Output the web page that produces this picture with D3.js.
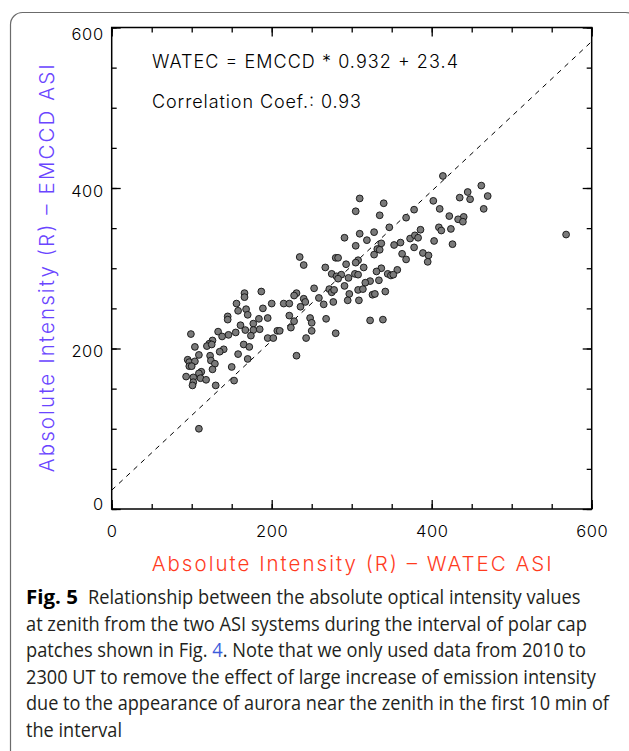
<html>
<head>
<meta charset="utf-8">
<title>Fig. 5 WATEC vs EMCCD</title>
<script src="https://d3js.org/d3.v7.min.js"></script>
<style>
  body { margin: 0; background: #fff; }
</style>
</head>
<body>
<script>

    const width = 629;
    const height = 751;

    // WATEC intensity (x) and EMCCD intensity (y), Rayleigh
    const watec = [
        187, 166, 166, 156, 168, 158, 189, 170, 145, 145, 177, 184, 161, 167, 177, 185,
        155, 146, 133, 138, 99, 174, 126, 122, 119, 125, 104, 165, 172, 140, 135, 109,
        158, 123, 95, 97, 104, 124, 129, 170, 97, 100, 126, 150, 112, 109, 93, 102,
        111, 118, 102, 101, 130, 153, 109,
        235, 240, 200, 215, 222, 195, 222, 228, 224, 207, 210, 195, 202, 231, 231, 228,
        240, 242, 236, 253, 259, 272, 275, 278, 277, 265, 248, 250, 268, 250, 243, 280,
        267, 275, 281, 287, 283, 291, 280, 283, 291, 293,
        310, 340, 305, 335, 378, 368, 347, 386, 310, 319, 328, 373, 379, 383, 305, 337,
        353, 361, 378, 332, 335, 328, 363, 389, 368, 308, 305, 315, 337, 331, 357, 345,
        349, 352, 304, 308, 296, 323, 317, 334, 308, 314, 342, 297, 326, 329, 295, 309,
        323, 339,
        414, 462, 445, 470, 435, 448, 402, 410, 465, 422, 440, 433, 439, 409, 412, 424,
        403, 426, 396, 395,
        568
    ];
    const emccd = [
        271, 269, 264, 256, 249, 247, 250, 242, 240, 236, 231, 237, 229, 223, 223, 224,
        220, 217, 221, 215, 218, 216, 210, 206, 203, 205, 202, 205, 202, 199, 196, 192,
        193, 191, 186, 183, 184, 185, 181, 187, 178, 178, 174, 177, 171, 169, 165, 164,
        163, 161, 158, 154, 154, 160, 100,
        314, 304, 256, 256, 256, 238, 241, 234, 226, 222, 222, 213, 213, 191, 269, 266,
        262, 258, 252, 275, 263, 274, 270, 273, 258, 255, 238, 232, 237, 222, 213, 219,
        301, 293, 290, 292, 287, 278, 313, 313, 338, 305,
        387, 381, 371, 366, 373, 363, 351, 348, 343, 335, 345, 337, 341, 338, 328, 331,
        329, 332, 326, 324, 323, 317, 318, 319, 311, 310, 307, 301, 300, 296, 298, 293,
        291, 292, 293, 292, 288, 284, 282, 285, 273, 274, 271, 268, 267, 268, 260, 260,
        235, 236,
        415, 403, 395, 390, 388, 386, 384, 374, 374, 365, 364, 361, 358, 351, 347, 349,
        334, 330, 316, 308,
        342
    ];

    const fitSlope = 0.932;
    const fitIntercept = 23.4;
    const corrCoef = 0.93;

    const majorTicks = [0, 200, 400, 600];
    const minorTicks = [0, 50, 100, 150, 200, 250, 300, 350, 400, 450, 500, 550, 600];

    const captionLines = [
        "at zenith from the two ASI systems during the interval of polar cap",
        "patches shown in Fig. |4|. Note that we only used data from 2010 to",
        "2300 UT to remove the effect of large increase of emission intensity",
        "due to the appearance of aurora near the zenith in the first 10 min of",
        "the interval"
    ];
    const captionWidths = [561, 560, 570, 583, 96];

    const x = d3.scaleLinear().domain([0, 600]).range([111.7, 591.7]);
    const y = d3.scaleLinear().domain([0, 600]).range([509, 27.5]);

    const svg = d3.select("body").append("svg")
        .attr("width", width)
        .attr("height", height)
        .style("background", "#fff");

    // panel border (rounded, runs off the page)
    svg.append("rect")
        .attr("x", 10.5).attr("y", 12.5)
        .attr("width", 627).attr("height", 760)
        .attr("rx", 12)
        .attr("fill", "none")
        .attr("stroke", "#6b6b6b")
        .attr("stroke-width", 1.2);

    // thin stroke-like font, close to the IDL vector font
    const chartFont = "Inter, 'Liberation Sans', sans-serif";
    const chartWeight = 300;

    const styleAxis = (g) => {
        g.select(".domain").remove();
        g.selectAll(".tick line").attr("stroke", "#000").attr("stroke-width", 1.3);
        g.attr("font-family", chartFont).attr("font-size", 16.5).attr("font-weight", chartWeight);
        g.selectAll(".tick text").attr("fill", "#000").attr("letter-spacing", "0.6px");
    };

    // minor ticks on all four sides
    svg.append("g").attr("transform", `translate(${x(0)},0)`)
        .call(d3.axisLeft(y).tickValues(minorTicks).tickSize(-5).tickFormat("")).call(styleAxis);
    svg.append("g").attr("transform", `translate(${x(600)},0)`)
        .call(d3.axisRight(y).tickValues(minorTicks).tickSize(-5).tickFormat("")).call(styleAxis);
    svg.append("g").attr("transform", `translate(0,${y(600)})`)
        .call(d3.axisTop(x).tickValues(minorTicks).tickSize(-5).tickFormat("")).call(styleAxis);
    svg.append("g").attr("transform", `translate(0,${y(0)})`)
        .call(d3.axisBottom(x).tickValues(minorTicks).tickSize(-5).tickFormat("")).call(styleAxis);

    // major ticks
    const leftAxis = svg.append("g").attr("transform", `translate(${x(0)},0)`)
        .call(d3.axisLeft(y).tickValues(majorTicks).tickSize(-9).tickPadding(8).tickFormat(d3.format("d")))
        .call(styleAxis);
    // IDL keeps the end labels inside the frame
    leftAxis.selectAll(".tick text")
        .attr("dy", d => d === 600 ? 12.3 : d === 0 ? 0 : 8);

    svg.append("g").attr("transform", `translate(${x(600)},0)`)
        .call(d3.axisRight(y).tickValues(majorTicks).tickSize(-9).tickFormat("")).call(styleAxis);
    svg.append("g").attr("transform", `translate(0,${y(600)})`)
        .call(d3.axisTop(x).tickValues(majorTicks).tickSize(-9).tickFormat("")).call(styleAxis);
    svg.append("g").attr("transform", `translate(0,${y(0)})`)
        .call(d3.axisBottom(x).tickValues(majorTicks).tickSize(-9).tickPadding(16).tickFormat(d3.format("d")))
        .call(styleAxis);

    // frame
    svg.append("rect")
        .attr("x", x(0)).attr("y", y(600))
        .attr("width", x(600) - x(0)).attr("height", y(0) - y(600))
        .attr("fill", "none")
        .attr("stroke", "#000")
        .attr("stroke-width", 1.5);

    // fit line
    const fitLine = d3.line()
        .x(d => x(d))
        .y(d => y(fitSlope * d + fitIntercept));
    svg.append("path")
        .attr("d", fitLine([0, 600]))
        .attr("fill", "none")
        .attr("stroke", "#000")
        .attr("stroke-width", 1)
        .attr("stroke-dasharray", "5,5");

    // points
    svg.append("g")
        .selectAll("circle")
        .data(d3.zip(watec, emccd))
        .join("circle")
        .attr("cx", d => x(d[0]))
        .attr("cy", d => y(d[1]))
        .attr("r", 3.4)
        .attr("fill", "#7a7a7a")
        .attr("stroke", "#111")
        .attr("stroke-width", 0.9);

    // annotations
    svg.append("text")
        .attr("x", 152).attr("y", 68.3)
        .attr("font-family", chartFont).attr("font-size", 18).attr("font-weight", chartWeight)
        .attr("textLength", 306).attr("lengthAdjust", "spacing")
        .text(`WATEC = EMCCD * ${fitSlope} + ${fitIntercept}`);
    svg.append("text")
        .attr("x", 152).attr("y", 108.3)
        .attr("font-family", chartFont).attr("font-size", 18).attr("font-weight", chartWeight)
        .attr("textLength", 209).attr("lengthAdjust", "spacing")
        .text(`Correlation Coef.: ${corrCoef}`);

    // axis titles
    svg.append("text")
        .attr("x", (x(0) + x(600)) / 2).attr("y", 571)
        .attr("text-anchor", "middle")
        .attr("font-family", chartFont).attr("font-size", 20.5).attr("font-weight", chartWeight)
        .attr("fill", "#ff3b1e")
        .attr("textLength", 400).attr("lengthAdjust", "spacing")
        .text("Absolute Intensity (R) \u2013 WATEC ASI");
    svg.append("text")
        .attr("transform", `translate(53.5,${(y(0) + y(600)) / 2}) rotate(-90)`)
        .attr("text-anchor", "middle")
        .attr("font-family", chartFont).attr("font-size", 20.5).attr("font-weight", chartWeight)
        .attr("fill", "#6a45ff")
        .attr("textLength", 408).attr("lengthAdjust", "spacing")
        .text("Absolute Intensity (R) \u2013 EMCCD ASI");

    // caption: a condensed face is faked by a smaller size stretched back vertically
    const capFont = "'Open Sans', 'Noto Sans', sans-serif";
    const capSize = 19.5;
    const capTop = 604;
    const capStep = 26.5;

    const fitCaption = (t, left, base, target) => {
        const w = t.node().getComputedTextLength();
        const k = target / w;
        t.attr("font-size", capSize * k)
            .attr("transform", `translate(${left},${base}) scale(1,${1 / k})`);
    };

    const addCaptionLine = (parts, left, base, target, bold) => {
        const t = svg.append("text")
            .attr("x", 0).attr("y", 0)
            .attr("font-family", capFont).attr("font-size", capSize)
            .attr("font-weight", bold ? "bold" : null)
            .attr("fill", bold ? "#000" : "#231f20");
        parts.forEach((part, j) => {
            t.append("tspan").attr("fill", j % 2 ? "#3b5bdb" : null).text(part);
        });
        fitCaption(t, left, base, target);
    };

    addCaptionLine(["Fig. 5"], 26, capTop, 52, true);
    addCaptionLine(["Relationship between the absolute optical intensity values"], 88, capTop, 493, false);
    captionLines.forEach((line, i) => {
        addCaptionLine(line.split("|"), 26, capTop + capStep * (i + 1), captionWidths[i], false);
    });

</script>
</body>
</html>
